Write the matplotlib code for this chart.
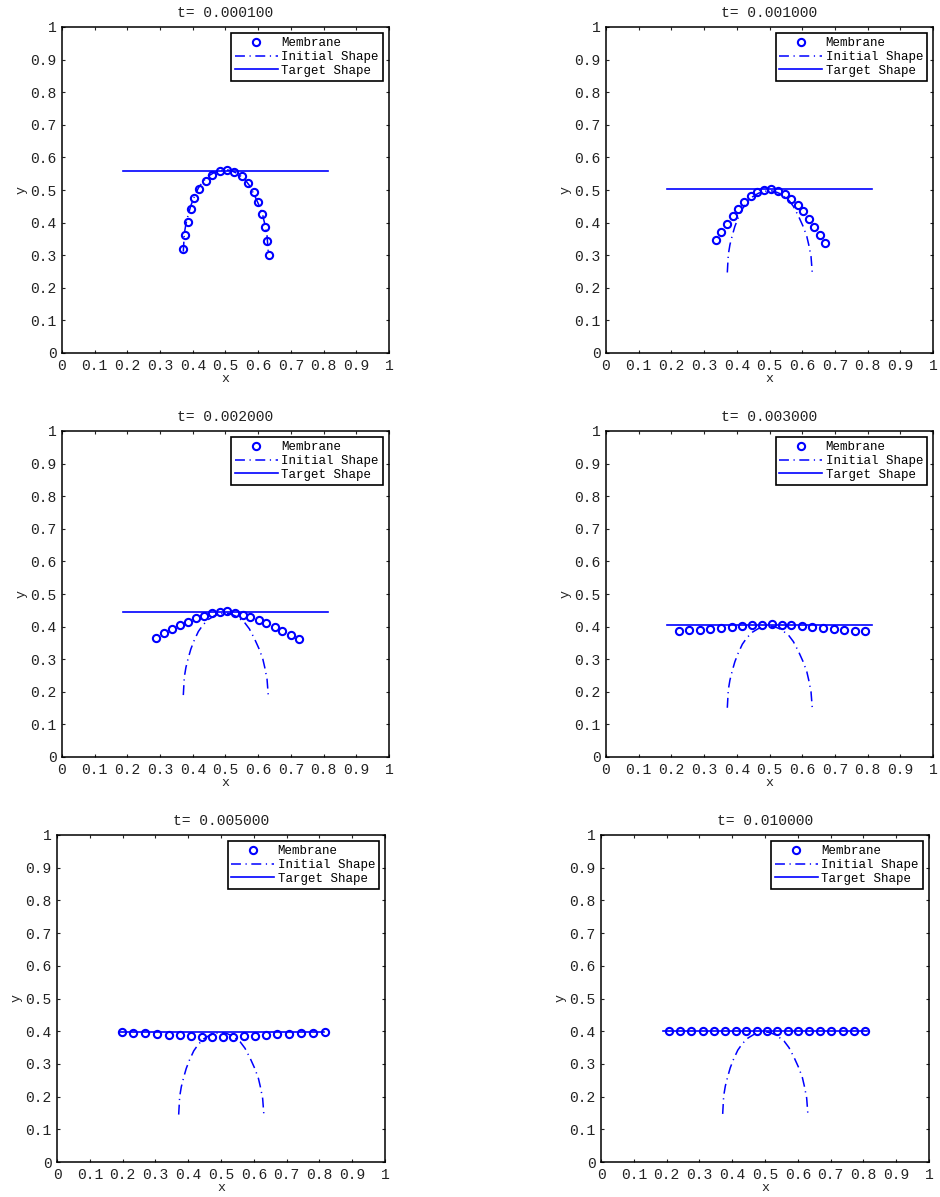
import numpy as np
import matplotlib
matplotlib.use('Agg')
import matplotlib.pyplot as plt

plt.rcParams['font.family'] = ['Liberation Mono', 'DejaVu Sans Mono']

times = [0.0001, 0.001, 0.002, 0.003, 0.005, 0.01]

# membrane node positions at each saved time
mem_x = [
    [0.370, 0.377, 0.384, 0.393, 0.404, 0.420, 0.439, 0.459, 0.482, 0.504,
     0.527, 0.549, 0.569, 0.587, 0.600, 0.612, 0.620, 0.626, 0.632],
    [0.336, 0.353, 0.370, 0.387, 0.404, 0.423, 0.442, 0.462, 0.484, 0.505,
     0.526, 0.547, 0.566, 0.586, 0.603, 0.620, 0.637, 0.653, 0.670],
    [0.286, 0.311, 0.336, 0.360, 0.385, 0.410, 0.434, 0.458, 0.482, 0.505,
     0.529, 0.553, 0.576, 0.601, 0.625, 0.650, 0.674, 0.700, 0.724],
    [0.222, 0.254, 0.286, 0.319, 0.351, 0.384, 0.415, 0.446, 0.477, 0.507,
     0.537, 0.567, 0.599, 0.630, 0.663, 0.696, 0.727, 0.760, 0.792],
    [0.197, 0.233, 0.269, 0.304, 0.340, 0.374, 0.409, 0.442, 0.474, 0.507,
     0.538, 0.571, 0.603, 0.637, 0.672, 0.708, 0.744, 0.779, 0.816],
    [0.2065, 0.241, 0.275, 0.310, 0.345, 0.377, 0.411, 0.443, 0.475, 0.507,
     0.537, 0.569, 0.601, 0.634, 0.667, 0.702, 0.737, 0.771, 0.806],
]
mem_y = [
    [0.319, 0.361, 0.403, 0.441, 0.476, 0.504, 0.529, 0.546, 0.557, 0.560,
     0.554, 0.542, 0.520, 0.494, 0.462, 0.426, 0.386, 0.345, 0.301],
    [0.346, 0.372, 0.397, 0.421, 0.442, 0.462, 0.481, 0.493, 0.501, 0.503,
     0.498, 0.488, 0.472, 0.455, 0.435, 0.411, 0.387, 0.361, 0.336],
    [0.366, 0.381, 0.393, 0.404, 0.415, 0.426, 0.434, 0.441, 0.445, 0.447,
     0.443, 0.437, 0.429, 0.420, 0.411, 0.399, 0.388, 0.374, 0.361],
    [0.386, 0.389, 0.391, 0.393, 0.396, 0.399, 0.402, 0.404, 0.406, 0.407,
     0.406, 0.404, 0.401, 0.398, 0.395, 0.392, 0.390, 0.388, 0.385],
    [0.398, 0.395, 0.393, 0.391, 0.389, 0.387, 0.385, 0.383, 0.382, 0.382,
     0.383, 0.384, 0.386, 0.388, 0.390, 0.391, 0.394, 0.396, 0.398],
    [0.401] * 19,
]

# initial arc: x and height above its base, base moves with the membrane
arc_x = [0.371, 0.374, 0.379, 0.386, 0.394, 0.404, 0.417, 0.431, 0.448, 0.466, 0.485,
         0.500, 0.515, 0.534, 0.558, 0.573, 0.589, 0.603, 0.614, 0.620, 0.627, 0.631]
arc_h = [0.001, 0.056, 0.086, 0.114, 0.142, 0.168, 0.196, 0.216, 0.233, 0.244, 0.250,
         0.252, 0.250, 0.242, 0.224, 0.204, 0.173, 0.142, 0.112, 0.086, 0.050, -0.003]
arc_base = [0.310, 0.246, 0.189, 0.150, 0.144, 0.146]

# flat target shape
target_x = [0.1875, 0.8125]
target_y = [0.559, 0.502, 0.446, 0.406, 0.399, 0.401]

tick_vals = [0, 0.1, 0.2, 0.3, 0.4, 0.5, 0.6, 0.7, 0.8, 0.9, 1]
tick_labels = ['0', '0.1', '0.2', '0.3', '0.4', '0.5', '0.6', '0.7', '0.8', '0.9', '1']

W, H = 940, 1197
# axes boxes in pixels: left, top, right, bottom
boxes = [(62, 27, 389, 353), (606, 27, 933, 353),
         (62, 431, 389, 757), (606, 431, 933, 757),
         (57, 835, 385, 1162), (601, 835, 929, 1162)]

fig = plt.figure(figsize=(W / 100, H / 100), dpi=100)

for i, t in enumerate(times):
    l, tp, r, b = boxes[i]
    ax = fig.add_axes([l / W, 1 - b / H, (r - l) / W, (b - tp) / H])

    ax.plot(mem_x[i], mem_y[i], 'o', color='blue', mfc='none', ms=5.2, mew=1.5,
            label='Membrane')
    ax.plot(arc_x, np.array(arc_h) + arc_base[i], color='blue', lw=1.1,
            dashes=(6.5, 3, 0.8, 3), label='Initial Shape')
    ax.plot(target_x, [target_y[i]] * 2, color='blue', lw=1.2, label='Target Shape')

    ax.set_xlim(0, 1)
    ax.set_ylim(0, 1)
    ax.set_xticks(tick_vals)
    ax.set_xticklabels(tick_labels)
    ax.set_yticks(tick_vals)
    ax.set_yticklabels(tick_labels)
    ax.tick_params(direction='in', length=2.5, width=0.8, top=True, right=True,
                   labelsize=10.5, colors='#222222', pad=4)
    for s in ax.spines.values():
        s.set_linewidth(1.1)

    ax.set_title('t= {:f}'.format(t), fontsize=10.5, pad=7, color='#222222')
    ax.set_xlabel('x', fontsize=9.5, labelpad=0, color='#222222')
    ax.set_ylabel('y', fontsize=9.5, labelpad=2, color='#222222')

    leg = ax.legend(loc='upper right', numpoints=1, fontsize=9, fancybox=False,
                    edgecolor='black', handlelength=3.4, handletextpad=0.3,
                    labelspacing=0.15, borderpad=0.3, borderaxespad=0.5,
                    framealpha=1)
    leg.get_frame().set_linewidth(1.2)

fig.savefig('out.png', dpi=100)
